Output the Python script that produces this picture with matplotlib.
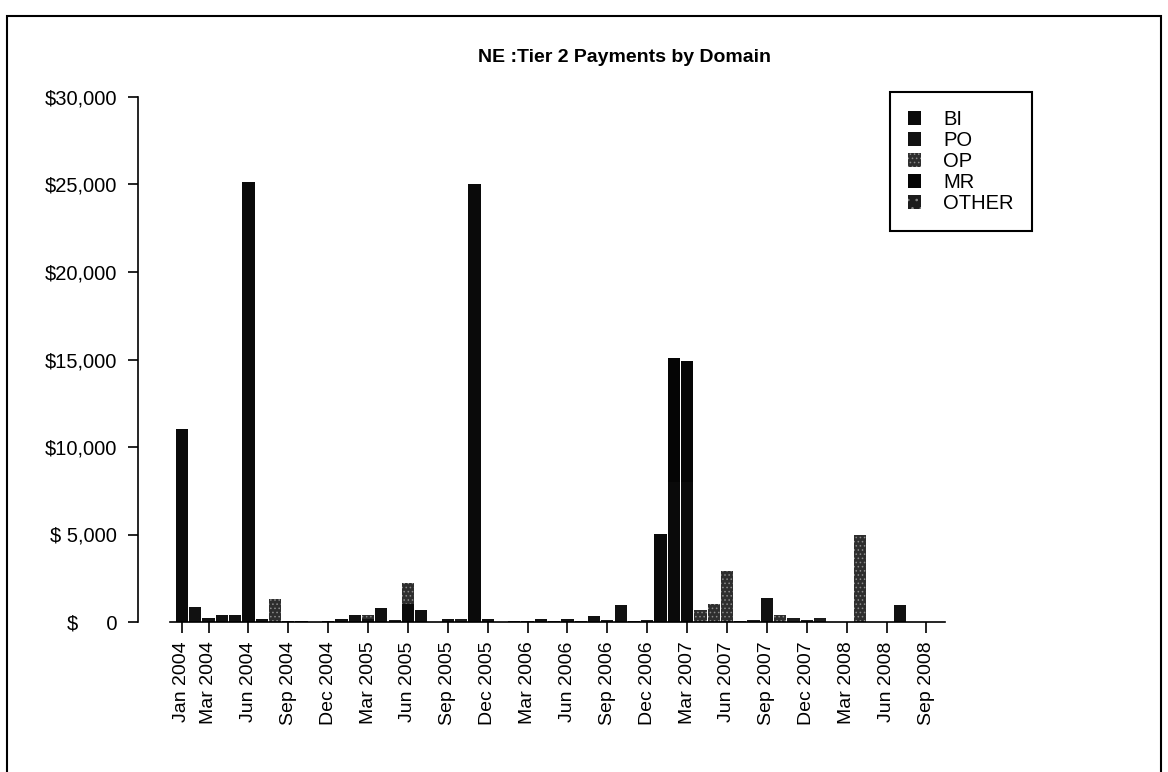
import numpy as np
import pandas as pd
import matplotlib
matplotlib.use('Agg')
import matplotlib.pyplot as plt
from matplotlib.patches import Rectangle

plt.rcParams['font.family'] = ['Liberation Sans', 'DejaVu Sans']
plt.rcParams['hatch.linewidth'] = 0.6

# monthly payments, Jan 2004 .. Sep 2008
months = pd.date_range('2004-01-01', '2008-09-01', freq='MS')

bi = ([11050, 0, 0, 0, 0, 25150, 0, 0, 0, 0, 0, 0] +
      [0, 0, 0, 0, 0, 1050, 0, 0, 0, 0, 25000, 0] +
      [0, 0, 0, 0, 0, 0, 0, 0, 0, 0, 0, 0] +
      [5050, 8000, 8000, 0, 0, 0, 0, 0, 0, 0, 0, 0] +
      [0, 0, 0, 0, 0, 0, 0, 0, 0])
po = ([0, 850, 230, 380, 420, 0, 150, 0, 0, 0, 0, 0] +
      [150, 400, 150, 800, 0, 0, 700, 0, 200, 0, 0, 170] +
      [0, 0, 0, 170, 0, 170, 0, 350, 0, 950, 0, 0] +
      [0, 0, 0, 0, 0, 0, 0, 0, 1350, 0, 0, 0] +
      [0, 0, 0, 0, 0, 0, 1000, 0, 0])
op = ([0, 0, 0, 0, 0, 0, 0, 1300, 0, 0, 0, 0] +
      [0, 0, 250, 0, 0, 1200, 0, 0, 0, 0, 0, 0] +
      [0, 0, 0, 0, 0, 0, 0, 0, 0, 0, 0, 0] +
      [0, 0, 0, 700, 1050, 2900, 0, 0, 0, 420, 0, 0] +
      [0, 0, 0, 4950, 0, 0, 0, 0, 0])
mr = ([0, 0, 0, 0, 0, 0, 0, 0, 0, 0, 0, 0] +
      [0, 0, 0, 0, 0, 0, 0, 0, 0, 0, 0, 0] +
      [0, 0, 0, 0, 0, 0, 0, 0, 0, 0, 0, 0] +
      [0, 7100, 6900, 0, 0, 0, 0, 0, 0, 0, 0, 0] +
      [0, 0, 0, 0, 0, 0, 0, 0, 0])
other = ([0, 0, 0, 0, 0, 0, 0, 0, 30, 60, 20, 60] +
         [0, 0, 0, 0, 100, 0, 0, 20, 0, 150, 0, 0] +
         [20, 60, 30, 0, 30, 0, 30, 0, 130, 0, 50, 120] +
         [0, 0, 0, 0, 0, 0, 70, 130, 0, 0, 250, 130] +
         [250, 10, 10, 0, 10, 10, 0, 10, 10])

domains = ['BI', 'PO', 'OP', 'MR', 'OTHER']
series = [bi, po, op, mr, other]
colors = ['#0a0a0a', '#111111', '#2e2e2e', '#050505', '#1c1c1c']
hatches = [None, None, '....', None, '..']

tick_labels = ['Jan 2004', 'Mar 2004', 'Jun 2004', 'Sep 2004', 'Dec 2004',
               'Mar 2005', 'Jun 2005', 'Sep 2005', 'Dec 2005', 'Mar 2006',
               'Jun 2006', 'Sep 2006', 'Dec 2006', 'Mar 2007', 'Jun 2007',
               'Sep 2007', 'Dec 2007', 'Mar 2008', 'Jun 2008', 'Sep 2008']

fig = plt.figure(figsize=(11.68, 7.72), dpi=100)
ax = fig.add_axes([170 / 1168, 1 - 622 / 772, 775 / 1168, 525 / 772])

# detached y axis (set before tick labels, it resets them)
ax.spines['top'].set_visible(False)
ax.spines['right'].set_visible(False)
ax.spines['left'].set_position(('data', -3.3))
ax.spines['left'].set_linewidth(1.2)
ax.spines['bottom'].set_linewidth(1.2)

x = np.arange(len(months))
bottom = np.zeros(len(months))
for name, vals, c, h in zip(domains, series, colors, hatches):
    vals = np.array(vals, dtype=float)
    ax.bar(x, vals, width=0.92, bottom=bottom, color=c, label=name,
           hatch=h, edgecolor='#8a8a8a' if h else c, linewidth=0)
    bottom += vals

month_names = [m.strftime('%b %Y') for m in months]
ax.set_xticks([month_names.index(t) for t in tick_labels])
ax.set_xticklabels(tick_labels, rotation=90)
ax.set_xlim(-0.9, 57.4)

yticks = np.arange(0, 30001, 5000)
ax.set_ylim(0, 30000)
ax.set_yticks(yticks)
ax.set_yticklabels([f'${v:>6,}' for v in yticks])

ax.tick_params(axis='x', length=8, width=1.2, pad=6, labelsize=14)
ax.tick_params(axis='y', length=7, width=1.2, pad=8, labelsize=14.5)

fig.text(624 / 1168, 1 - 57 / 772, 'NE :Tier 2 Payments by Domain',
         ha='center', va='center', fontsize=14, fontweight='bold')

leg = ax.legend(loc='upper left', bbox_to_anchor=(890 / 1168, 1 - 92 / 772),
                bbox_transform=fig.transFigure, fontsize=14.5,
                handlelength=0.65, handleheight=0.65, handletextpad=1.1,
                labelspacing=0.1, borderpad=0.9, borderaxespad=0,
                fancybox=False, edgecolor='black', framealpha=1)
leg.get_frame().set_linewidth(1.5)

# outer frame of the page
fig.patches.append(Rectangle((7 / 1168, -0.02), 1154 / 1168, 1 - 16 / 772 + 0.02,
                             transform=fig.transFigure, fill=False,
                             edgecolor='black', linewidth=1.5))

plt.savefig('out.png', dpi=100)
